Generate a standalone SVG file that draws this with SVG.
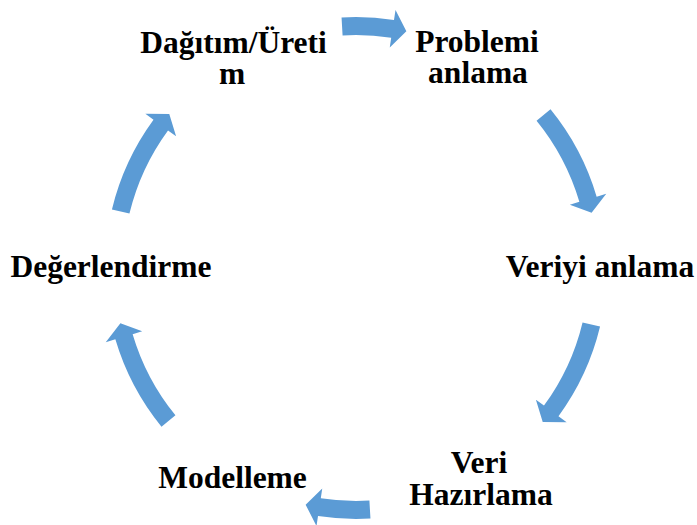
<svg xmlns="http://www.w3.org/2000/svg" width="697" height="525" viewBox="0 0 697 525">
  <style>
    text { font-family: 'Liberation Serif', 'Times New Roman', 'DejaVu Serif', serif; font-weight: 700; font-size: 31.5px; fill: #000000; text-anchor: middle; }
    .arrow { fill: #5B9BD5; }
  </style>
  <defs>
    <!-- curved cycle arrows, drawn around the origin starting at angle 0 -->
    <path id="longArrow" class="arrow" d="M251,0 A251,251 0 0 1 231.5,96.9 L240.8,100.7 L217.5,106.1 L205.7,86.1 L214.9,89.9 A233,233 0 0 0 233,0 Z"/>
    <path id="shortArrow" class="arrow" d="M251,0 A251,251 0 0 1 245.5,52.2 L255.3,54.3 L233.4,63.9 L218.1,46.4 L227.9,48.4 A233,233 0 0 0 233,0 Z"/>
  </defs>
  <rect width="697" height="525" fill="#ffffff"/>

  <g id="connectors">
    <use href="#shortArrow" transform="translate(356 268) rotate(-93.3)"/>
    <use href="#longArrow" transform="translate(356 268) rotate(-39.2)"/>
    <use href="#longArrow" transform="translate(356 268) rotate(13.5)"/>
    <use href="#shortArrow" transform="translate(356 268) rotate(86.7)"/>
    <use href="#longArrow" transform="translate(356 268) rotate(140.8)"/>
    <use href="#longArrow" transform="translate(356 268) rotate(193.5)"/>
  </g>

  <g id="problemi-anlama" font-family="Liberation Serif, serif">
    <text x="477" y="52">Problemi</text>
    <text x="478" y="83">anlama</text>
  </g>
  <g id="veriyi-anlama" font-family="Liberation Serif, serif">
    <text x="600" y="277">Veriyi anlama</text>
  </g>
  <g id="veri-hazirlama" font-family="Liberation Serif, serif">
    <text x="479" y="473">Veri</text>
    <text x="481" y="505">Hazırlama</text>
  </g>
  <g id="modelleme" font-family="Liberation Serif, serif">
    <text x="232.5" y="488">Modelleme</text>
  </g>
  <g id="degerlendirme" font-family="Liberation Serif, serif">
    <text x="111" y="277">Değerlendirme</text>
  </g>
  <g id="dagitim-uretim" font-family="Liberation Serif, serif">
    <text x="233.5" y="53">Dağıtım/Üreti</text>
    <text x="232" y="84">m</text>
  </g>
</svg>
